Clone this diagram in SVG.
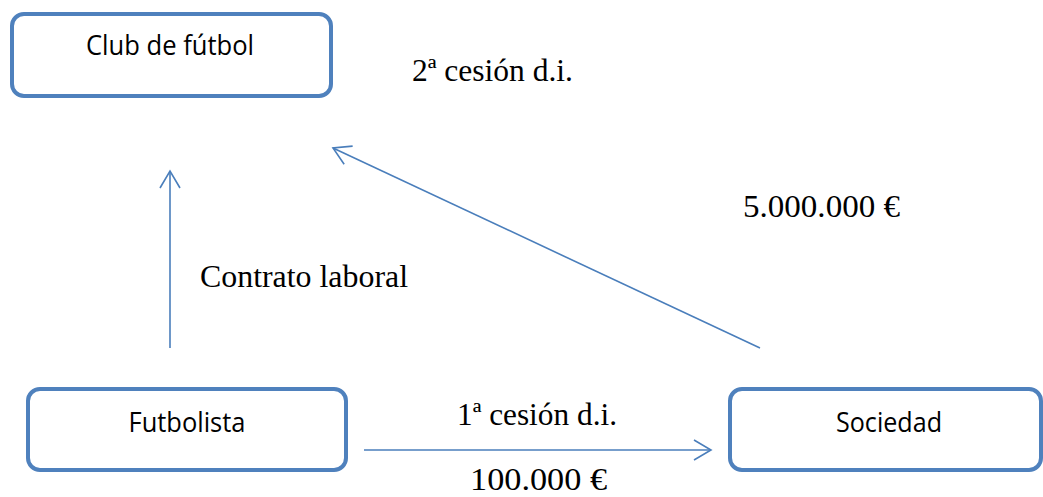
<svg xmlns="http://www.w3.org/2000/svg" width="1043" height="497" viewBox="0 0 1043 497">
  <style>
    .box { fill: #ffffff; stroke: #4F81BD; stroke-width: 4; }
    .lbl { font-family: "Open Sans", "Noto Sans", "Liberation Sans", sans-serif; font-size: 26.5px; fill: #000000; text-anchor: middle; }
    .note { font-family: "Liberation Serif", "Times New Roman", serif; font-size: 32px; fill: #000000; }
    .link { fill: none; stroke: #4A7EBB; stroke-width: 1.6; }
  </style>
  <defs>
    <marker id="open-arrow" markerUnits="userSpaceOnUse" markerWidth="24" markerHeight="24" viewBox="-20 -12 24 24" refX="0" refY="0" orient="auto">
      <path d="M-17,-10 L0,0 L-17,10" fill="none" stroke="#4A7EBB" stroke-width="1.6"/>
    </marker>
  </defs>
  <rect width="1043" height="497" fill="#ffffff"/>

  <g id="club">
    <rect class="box" x="12" y="14" width="319" height="82" rx="12" ry="12"/>
    <text class="lbl" x="170" y="55" textLength="168" lengthAdjust="spacingAndGlyphs">Club de fútbol</text>
  </g>

  <g id="futbolista">
    <rect class="box" x="28" y="389" width="318" height="81" rx="12" ry="12"/>
    <text class="lbl" x="187" y="432" textLength="117" lengthAdjust="spacingAndGlyphs">Futbolista</text>
  </g>

  <g id="sociedad">
    <rect class="box" x="730" y="389" width="311" height="81" rx="12" ry="12"/>
    <text class="lbl" x="889" y="432" textLength="106" lengthAdjust="spacingAndGlyphs">Sociedad</text>
  </g>

  <g id="connectors">
    <line class="link" x1="170" y1="348" x2="170" y2="171" stroke-width="2" marker-end="url(#open-arrow)"/>
    <line class="link" x1="760" y1="348" x2="333" y2="148" marker-end="url(#open-arrow)"/>
    <line class="link" x1="364" y1="450" x2="711" y2="450" marker-end="url(#open-arrow)"/>
  </g>

  <g id="labels">
    <text class="note" x="412" y="81" textLength="161" lengthAdjust="spacingAndGlyphs">2ª cesión d.i.</text>
    <text class="note" x="743" y="217" textLength="157" lengthAdjust="spacingAndGlyphs">5.000.000 €</text>
    <text class="note" x="200" y="287" textLength="208" lengthAdjust="spacingAndGlyphs">Contrato laboral</text>
    <text class="note" x="457" y="425" textLength="160" lengthAdjust="spacingAndGlyphs">1ª cesión d.i.</text>
    <text class="note" x="470" y="490" textLength="137" lengthAdjust="spacingAndGlyphs">100.000 €</text>
  </g>
</svg>
